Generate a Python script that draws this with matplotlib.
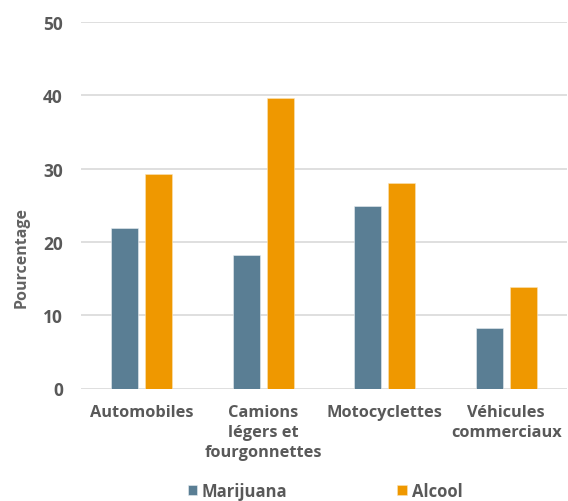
import numpy as np
import matplotlib
matplotlib.use("Agg")
import matplotlib.pyplot as plt

categories = ["Automobiles", "Camions\nlégers et\nfourgonnettes", "Motocyclettes", "Véhicules\ncommerciaux"]
marijuana = [21.9, 18.2, 24.9, 8.3]
alcool = [29.3, 39.6, 28.0, 13.8]
yticks = [0, 10, 20, 30, 40, 50]

GREY = "#595959"
plt.rcParams["font.family"] = ["Open Sans", "DejaVu Sans"]

fig = plt.figure(figsize=(5.68, 5.02), dpi=100)
ax = fig.add_axes([81 / 568, 1 - 389.5 / 502, 486 / 568, (389.5 - 23) / 502])

x = np.arange(len(categories))
w = 0.222
off = 0.14
ax.bar(x - off, marijuana, w, color="#5a7e94", edgecolor="#e8eef2", linewidth=0.4,
       label="Marijuana", zorder=3)
ax.bar(x + off, alcool, w, color="#ef9800", edgecolor="#fbe3b8", linewidth=0.4,
       label="Alcool", zorder=3)

ax.set_xlim(-0.5, len(categories) - 0.5)
ax.set_ylim(0, 50)
ax.set_yticks(yticks)
ax.set_xticks(x)
ax.set_xticklabels(categories, fontsize=11.8, fontweight="bold", color=GREY,
                   linespacing=1.35, va="top")
ax.tick_params(axis="y", labelsize=12.5, labelcolor=GREY, length=0, pad=13)
ax.tick_params(axis="x", length=0, pad=11)
for lab in ax.get_yticklabels():
    lab.set_fontweight("bold")
ax.grid(axis="y", color="#d9d9d9", linewidth=1.2, zorder=0)
for s in ax.spines.values():
    s.set_visible(False)

fig.text(22 / 568, 1 - 257 / 502, "Pourcentage", rotation=90, ha="center", va="center",
         fontsize=11.5, fontweight="bold", color="#636363")

fig.legend(loc="center", bbox_to_anchor=(325 / 568, 1 - 492 / 502), ncol=2, frameon=False,
           handlelength=0.55, handleheight=0.55, handletextpad=0.3, columnspacing=6.6,
           prop={"size": 12, "weight": "bold"}, labelcolor=GREY)

fig.savefig("out.png", dpi=100)
